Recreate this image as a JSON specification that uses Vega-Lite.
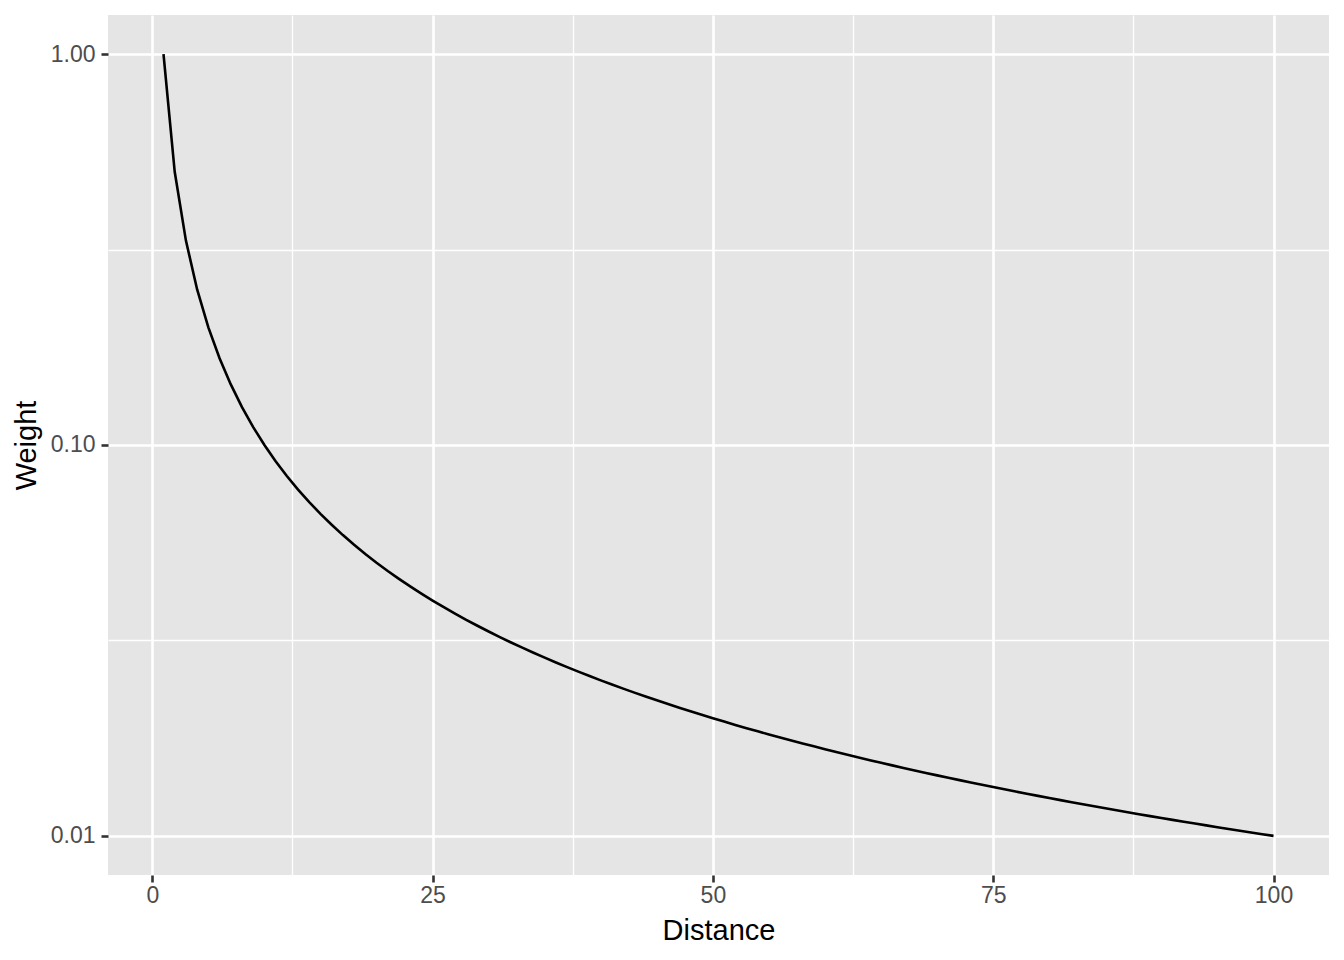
{
  "$schema": "https://vega.github.io/schema/vega-lite/v6.json",
  "autosize": {"type": "none"},
  "width": 1221,
  "height": 860,
  "padding": {"left": 108, "top": 15, "right": 15, "bottom": 85},
  "background": "white",
  "config": {
    "view": {"fill": "#E5E5E5", "stroke": null},
    "font": "Liberation Sans",
    "axis": {
      "domain": false,
      "gridColor": "white",
      "tickColor": "#333333",
      "labelColor": "#4D4D4D",
      "labelFont": "Liberation Sans",
      "labelFontSize": 23,
      "titleFont": "Liberation Sans",
      "titleFontSize": 29,
      "titleFontWeight": "normal",
      "titleColor": "black"
    }
  },
  "data": {"values": [
    {"Distance": 1, "Weight": 1},
    {"Distance": 2, "Weight": 0.5},
    {"Distance": 3, "Weight": 0.333333},
    {"Distance": 4, "Weight": 0.25},
    {"Distance": 5, "Weight": 0.2},
    {"Distance": 6, "Weight": 0.166667},
    {"Distance": 7, "Weight": 0.142857},
    {"Distance": 8, "Weight": 0.125},
    {"Distance": 9, "Weight": 0.111111},
    {"Distance": 10, "Weight": 0.1},
    {"Distance": 11, "Weight": 0.0909091},
    {"Distance": 12, "Weight": 0.0833333},
    {"Distance": 13, "Weight": 0.0769231},
    {"Distance": 14, "Weight": 0.0714286},
    {"Distance": 15, "Weight": 0.0666667},
    {"Distance": 16, "Weight": 0.0625},
    {"Distance": 17, "Weight": 0.0588235},
    {"Distance": 18, "Weight": 0.0555556},
    {"Distance": 19, "Weight": 0.0526316},
    {"Distance": 20, "Weight": 0.05},
    {"Distance": 21, "Weight": 0.047619},
    {"Distance": 22, "Weight": 0.0454545},
    {"Distance": 23, "Weight": 0.0434783},
    {"Distance": 24, "Weight": 0.0416667},
    {"Distance": 25, "Weight": 0.04},
    {"Distance": 26, "Weight": 0.0384615},
    {"Distance": 27, "Weight": 0.037037},
    {"Distance": 28, "Weight": 0.0357143},
    {"Distance": 29, "Weight": 0.0344828},
    {"Distance": 30, "Weight": 0.0333333},
    {"Distance": 31, "Weight": 0.0322581},
    {"Distance": 32, "Weight": 0.03125},
    {"Distance": 33, "Weight": 0.030303},
    {"Distance": 34, "Weight": 0.0294118},
    {"Distance": 35, "Weight": 0.0285714},
    {"Distance": 36, "Weight": 0.0277778},
    {"Distance": 37, "Weight": 0.027027},
    {"Distance": 38, "Weight": 0.0263158},
    {"Distance": 39, "Weight": 0.025641},
    {"Distance": 40, "Weight": 0.025},
    {"Distance": 41, "Weight": 0.0243902},
    {"Distance": 42, "Weight": 0.0238095},
    {"Distance": 43, "Weight": 0.0232558},
    {"Distance": 44, "Weight": 0.0227273},
    {"Distance": 45, "Weight": 0.0222222},
    {"Distance": 46, "Weight": 0.0217391},
    {"Distance": 47, "Weight": 0.0212766},
    {"Distance": 48, "Weight": 0.0208333},
    {"Distance": 49, "Weight": 0.0204082},
    {"Distance": 50, "Weight": 0.02},
    {"Distance": 51, "Weight": 0.0196078},
    {"Distance": 52, "Weight": 0.0192308},
    {"Distance": 53, "Weight": 0.0188679},
    {"Distance": 54, "Weight": 0.0185185},
    {"Distance": 55, "Weight": 0.0181818},
    {"Distance": 56, "Weight": 0.0178571},
    {"Distance": 57, "Weight": 0.0175439},
    {"Distance": 58, "Weight": 0.0172414},
    {"Distance": 59, "Weight": 0.0169492},
    {"Distance": 60, "Weight": 0.0166667},
    {"Distance": 61, "Weight": 0.0163934},
    {"Distance": 62, "Weight": 0.016129},
    {"Distance": 63, "Weight": 0.015873},
    {"Distance": 64, "Weight": 0.015625},
    {"Distance": 65, "Weight": 0.0153846},
    {"Distance": 66, "Weight": 0.0151515},
    {"Distance": 67, "Weight": 0.0149254},
    {"Distance": 68, "Weight": 0.0147059},
    {"Distance": 69, "Weight": 0.0144928},
    {"Distance": 70, "Weight": 0.0142857},
    {"Distance": 71, "Weight": 0.0140845},
    {"Distance": 72, "Weight": 0.0138889},
    {"Distance": 73, "Weight": 0.0136986},
    {"Distance": 74, "Weight": 0.0135135},
    {"Distance": 75, "Weight": 0.0133333},
    {"Distance": 76, "Weight": 0.0131579},
    {"Distance": 77, "Weight": 0.012987},
    {"Distance": 78, "Weight": 0.0128205},
    {"Distance": 79, "Weight": 0.0126582},
    {"Distance": 80, "Weight": 0.0125},
    {"Distance": 81, "Weight": 0.0123457},
    {"Distance": 82, "Weight": 0.0121951},
    {"Distance": 83, "Weight": 0.0120482},
    {"Distance": 84, "Weight": 0.0119048},
    {"Distance": 85, "Weight": 0.0117647},
    {"Distance": 86, "Weight": 0.0116279},
    {"Distance": 87, "Weight": 0.0114943},
    {"Distance": 88, "Weight": 0.0113636},
    {"Distance": 89, "Weight": 0.011236},
    {"Distance": 90, "Weight": 0.0111111},
    {"Distance": 91, "Weight": 0.010989},
    {"Distance": 92, "Weight": 0.0108696},
    {"Distance": 93, "Weight": 0.0107527},
    {"Distance": 94, "Weight": 0.0106383},
    {"Distance": 95, "Weight": 0.0105263},
    {"Distance": 96, "Weight": 0.0104167},
    {"Distance": 97, "Weight": 0.0103093},
    {"Distance": 98, "Weight": 0.0102041},
    {"Distance": 99, "Weight": 0.010101},
    {"Distance": 100, "Weight": 0.01}
  ]},
  "resolve": {"axis": {"x": "independent", "y": "independent"}},
  "layer": [
    {
      "mark": {"type": "line", "opacity": 0},
      "encoding": {
        "x": {
          "field": "Distance", "type": "quantitative",
          "scale": {"domain": [-3.95, 104.95], "nice": false, "zero": false},
          "axis": {"orient": "bottom", "values": [12.5, 37.5, 62.5, 87.5], "grid": true, "gridWidth": 1.3, "ticks": false, "labels": false, "title": null}
        },
        "y": {
          "field": "Weight", "type": "quantitative",
          "scale": {"type": "log", "domain": [0.00794328, 1.25892541], "nice": false},
          "axis": {"orient": "left", "values": [0.0316228, 0.316228], "grid": true, "gridWidth": 1.3, "ticks": false, "labels": false, "title": null}
        }
      }
    },
    {
      "mark": {"type": "line", "color": "black", "strokeWidth": 2.6},
      "encoding": {
        "x": {
          "field": "Distance", "type": "quantitative",
          "axis": {"orient": "bottom", "values": [0, 25, 50, 75, 100], "grid": true, "gridWidth": 2.6, "tickSize": 7, "tickWidth": 2.6, "labelPadding": 2, "title": "Distance", "titleBaseline": "alphabetic", "titleY": 64}
        },
        "y": {
          "field": "Weight", "type": "quantitative",
          "axis": {"orient": "left", "values": [0.01, 0.1, 1], "format": ".2f", "grid": true, "gridWidth": 2.6, "tickSize": 7, "tickWidth": 2.6, "labelPadding": 6, "title": "Weight", "titleBaseline": "alphabetic", "titleX": -73}
        }
      }
    }
  ]
}
